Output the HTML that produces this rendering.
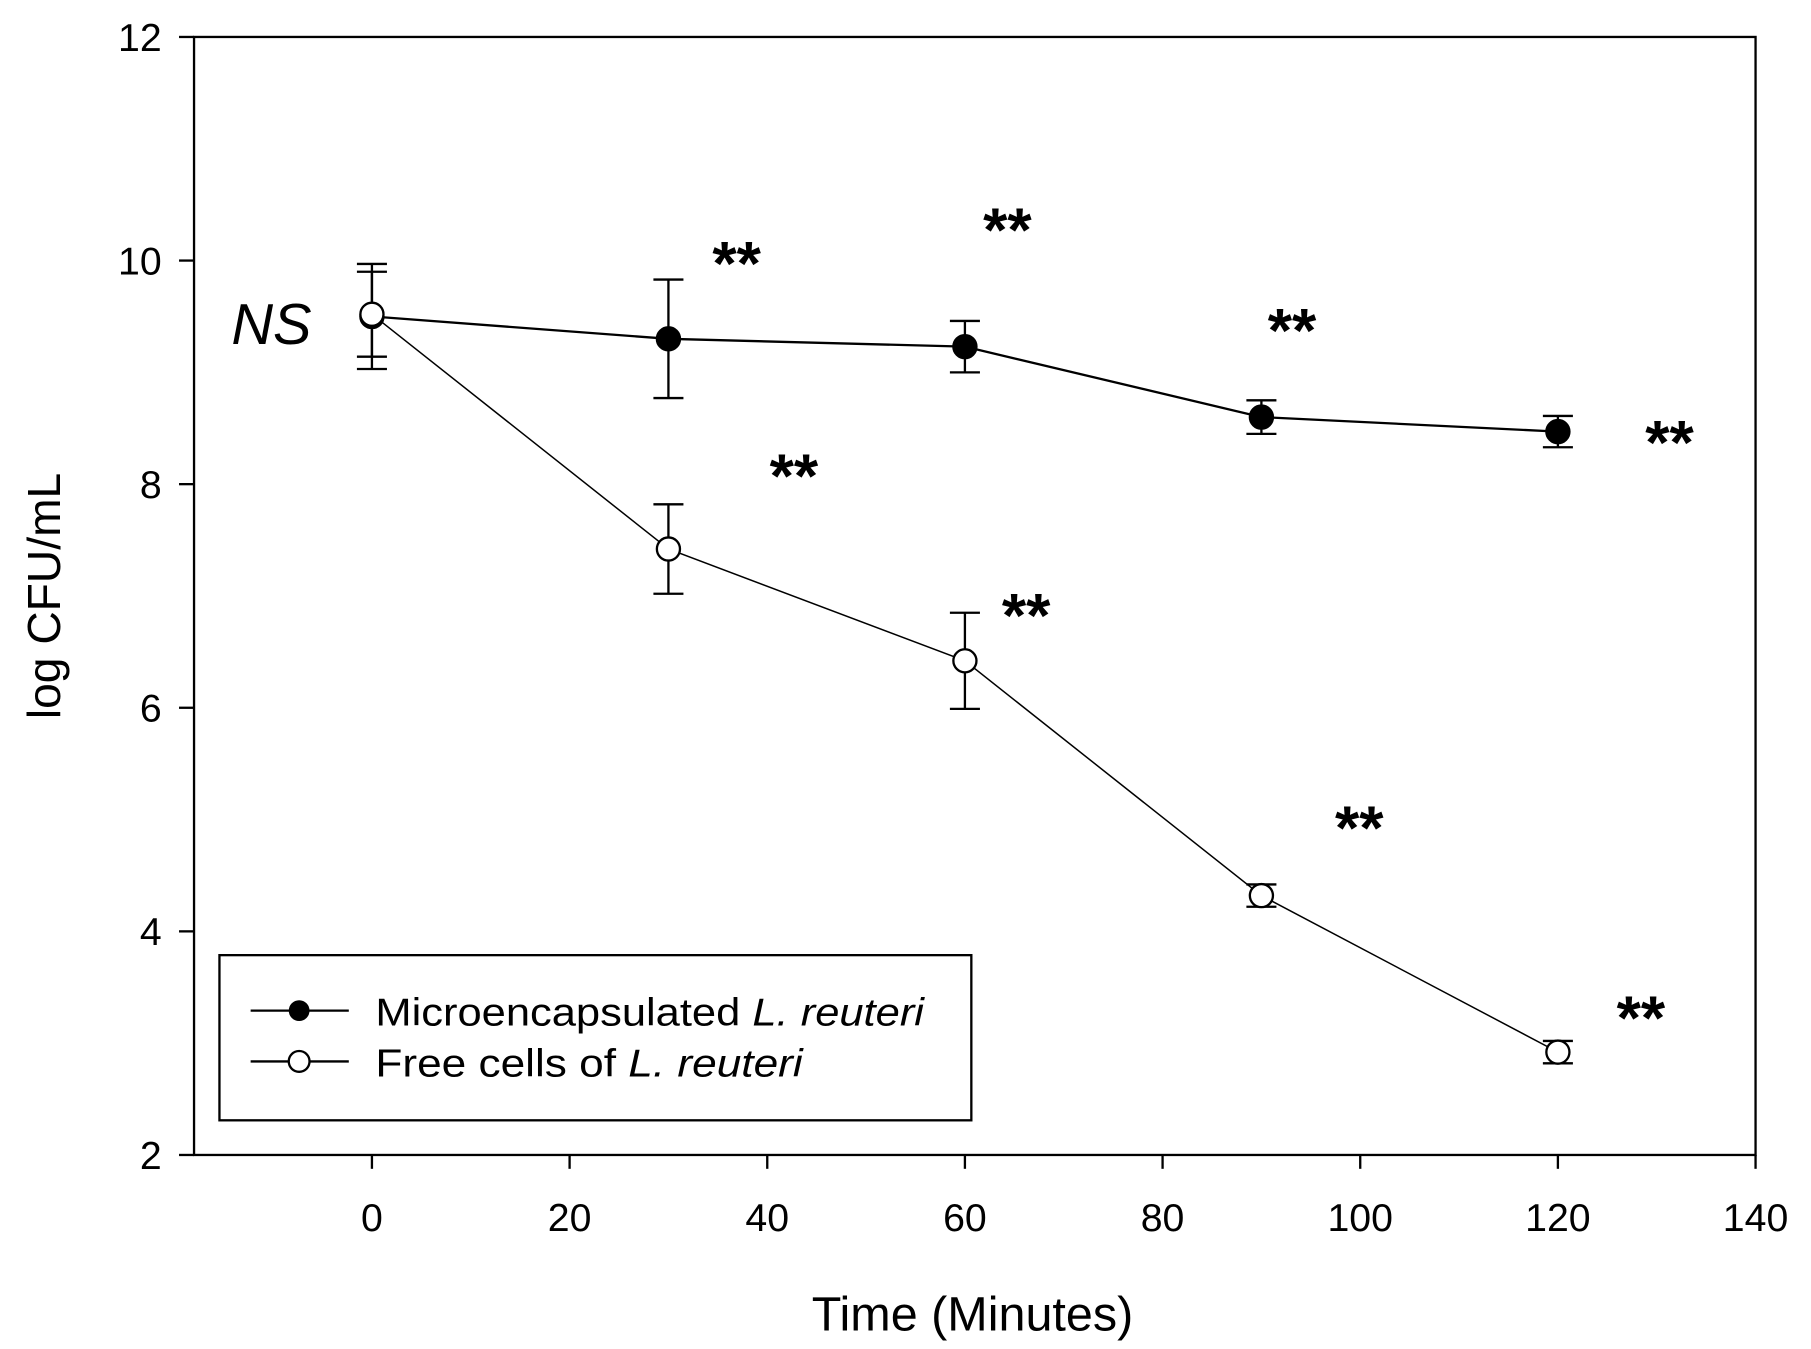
<!DOCTYPE html>
<html><head><meta charset="utf-8"><style>
html,body{margin:0;padding:0;background:#fff}
svg{display:block}
text{font-family:"Liberation Sans",Arial,sans-serif;fill:#000}
</style></head><body>
<svg id="chart" width="1811" height="1349" viewBox="0 0 1568 1168" xmlns="http://www.w3.org/2000/svg">
<g id="axes"></g>
<g id="marks"></g>
<g id="annots"></g>
<g id="legend">
<rect x="190" y="827" width="651" height="143" fill="#fff" stroke="#000" stroke-width="2"/>
<line x1="217" y1="875" x2="302" y2="875" stroke="#000" stroke-width="2"/>
<circle cx="259" cy="875" r="9" fill="#000"/>
<text x="325" y="888" font-size="34" textLength="475" lengthAdjust="spacingAndGlyphs">Microencapsulated <tspan font-style="italic">L. reuteri</tspan></text>
<line x1="217" y1="919" x2="302" y2="919" stroke="#000" stroke-width="2"/>
<circle cx="259" cy="919" r="9" fill="#fff" stroke="#000" stroke-width="2"/>
<text x="325" y="932" font-size="34" textLength="370" lengthAdjust="spacingAndGlyphs">Free cells of <tspan font-style="italic">L. reuteri</tspan></text>
</g>
</svg>
<script>
const times=[0,30,60,90,120];
const microVals=[9.5,9.3,9.23,8.6,8.47];
const microErr=[0.47,0.53,0.23,0.15,0.14];
const freeVals=[9.52,7.42,6.42,4.32,2.92];
const freeErr=[0.38,0.4,0.43,0.1,0.1];
const xTicks=[0,20,40,60,80,100,120,140];
const yTicks=[2,4,6,8,10,12];
const starX=[36.9,64.3,93.1,131.3,42.7,66.2,99.9,128.4];
const starY=[10.03,10.33,9.43,8.43,8.13,6.88,4.98,3.28];

const NS='http://www.w3.org/2000/svg';
const L=168,R=1520,T=32,B=1000,XMIN=-18,XMAX=140,YMIN=2,YMAX=12;
const x=v=>L+(v-XMIN)/(XMAX-XMIN)*(R-L);
const y=v=>B-(v-YMIN)/(YMAX-YMIN)*(B-T);
function mk(tag,attrs,parent){const e=document.createElementNS(NS,tag);for(const k in attrs)e.setAttribute(k,attrs[k]);parent.appendChild(e);return e;}
const axes=document.getElementById('axes'),marks=document.getElementById('marks'),ann=document.getElementById('annots');

let fr=mk('rect',{x:L,y:T,width:R-L,height:B-T,fill:'none',stroke:'#000','stroke-width':2},axes);


yTicks.forEach(v=>{
  let t=mk('line',{x1:155,x2:L,y1:y(v),y2:y(v),stroke:'#000','stroke-width':2},axes);
  
  
  let lb=mk('text',{x:140,y:y(v)+12,'font-size':34,'text-anchor':'end'},axes);
  lb.textContent=v;
  
  
});
xTicks.forEach(v=>{
  let t=mk('line',{x1:x(v),x2:x(v),y1:B,y2:1012,stroke:'#000','stroke-width':2},axes);
  
  
  let lb=mk('text',{x:x(v),y:1066,'font-size':34,'text-anchor':'middle'},axes);
  lb.textContent=v;
  
  
});
let xt=mk('text',{x:842,y:1152,'font-size':42,'text-anchor':'middle'},axes);
xt.textContent='Time (Minutes)';


let yt=mk('text',{x:0,y:0,'font-size':40,'text-anchor':'middle',transform:'translate(52,516) rotate(-90)'},axes);
yt.textContent='log CFU/mL';



function series(vals,errs,filled,name){
  const pts=times.map((t,i)=>x(t)+','+y(vals[i])).join(' ');
  let pl=mk('polyline',{points:pts,fill:'none',stroke:'#000','stroke-width':filled?2:1.3},marks);
  
  
  times.forEach((t,i)=>{
    const cx=x(t),hi=y(vals[i]+errs[i]),lo=y(vals[i]-errs[i]);
    let g=mk('g',{},marks);
    
    
    mk('line',{x1:cx,x2:cx,y1:hi,y2:lo,stroke:'#000','stroke-width':2},g);
    mk('line',{x1:cx-13,x2:cx+13,y1:hi,y2:hi,stroke:'#000','stroke-width':2},g);
    mk('line',{x1:cx-13,x2:cx+13,y1:lo,y2:lo,stroke:'#000','stroke-width':2},g);
  });
  times.forEach((t,i)=>{
    let c=mk('circle',{cx:x(t),cy:y(vals[i]),r:10,fill:filled?'#000':'#fff',stroke:'#000','stroke-width':2},marks);
    
    
  });
}
series(microVals,microErr,true,'micro');
series(freeVals,freeErr,false,'free');

starX.forEach((sx,i)=>{
  let s=mk('text',{x:x(sx),y:y(starY[i])+24,'font-size':54,'font-weight':'bold','text-anchor':'middle'},ann);
  s.textContent='**';
  
  
});
let ns=mk('text',{x:235,y:298,'font-size':50,'font-style':'italic','text-anchor':'middle'},ann);
ns.textContent='NS';


</script>
</body></html>
